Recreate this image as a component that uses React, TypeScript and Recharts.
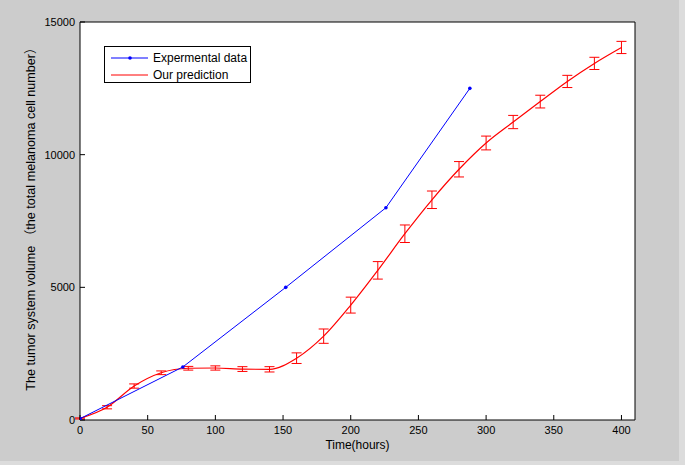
import React from 'react';
import {
  ComposedChart,
  ErrorBar,
  Legend,
  Line,
  XAxis,
  YAxis
} from 'recharts';

// Experimental measurements (hours, cell number)
const expHours = [0, 76, 152, 226, 288];
const expVolume = [50, 2000, 5000, 8000, 12500];

// Model prediction with error bars, every 20 hours
const predHours = [0, 20, 40, 60, 80, 100, 120, 140, 160, 180, 200, 220, 240, 260, 280, 300, 320, 340, 360, 380, 400];
const predVolume = [60, 480, 1280, 1780, 1950, 1960, 1920, 1910, 2330, 3160, 4330, 5640, 7020, 8300, 9450, 10440, 11230, 12000, 12760, 13440, 14040];
const predError = [20, 60, 80, 70, 70, 80, 90, 100, 200, 270, 300, 330, 330, 330, 290, 260, 250, 240, 230, 230, 230];

const xTicks = [0, 50, 100, 150, 200, 250, 300, 350, 400];
const yTicks = [0, 5000, 10000, 15000];

const expData = expHours.map((t, i) => ({ t, v: expVolume[i] }));
const predData = predHours.map((t, i) => ({ t, v: predVolume[i], err: predError[i] }));

const FONT = 'Arial, "Liberation Sans", Helvetica, sans-serif';
const tickStyle = { fill: '#000', fontSize: 11, fontFamily: FONT };

const LegendBox = () => (
  <div
    style={{
      width: 147,
      height: 37,
      background: '#fff',
      border: '1px solid #000',
      boxSizing: 'border-box',
      position: 'relative'
    }}
  >
    <svg width={147} height={37} style={{ position: 'absolute', left: 0, top: 0 }}>
      <line x1={6} x2={43} y1={11} y2={11} stroke="#0000ff" strokeWidth={1} />
      <circle cx={25} cy={11} r={1.8} fill="#0000ff" />
      <line x1={6} x2={43} y1={28} y2={28} stroke="#ff0000" strokeWidth={1} />
      <text x={48} y={15} fontSize={12} fontFamily={FONT} fill="#000">Expermental data</text>
      <text x={48} y={32} fontSize={12} fontFamily={FONT} fill="#000">Our prediction</text>
    </svg>
  </div>
);

export default function App() {
  return (
    <div style={{ position: 'absolute', left: 0, top: 0, width: 685, height: 465, background: '#dcdcdc' }}>
      <div style={{ width: 679, height: 461, background: '#cccccc' }}>
        <ComposedChart
          width={679}
          height={461}
          margin={{ top: 17, right: 39, bottom: 1, left: 30 }}
          style={{ fontFamily: FONT }}
        >
          <rect x={80} y={22} width={555} height={398} fill="#fff" />
          <XAxis
            xAxisId="b"
            type="number"
            dataKey="t"
            domain={[0, 410]}
            ticks={xTicks}
            allowDataOverflow
            tick={tickStyle}
            tickSize={-5}
            tickMargin={11}
            height={40}
            stroke="#000"
            label={{ value: 'Time(hours)', position: 'insideTop', offset: 20, fill: '#000', fontSize: 12, fontFamily: FONT }}
          />
          <XAxis
            xAxisId="top"
            orientation="top"
            type="number"
            dataKey="t"
            domain={[0, 410]}
            ticks={xTicks}
            allowDataOverflow
            tick={false}
            tickSize={-5}
            height={5}
            stroke="#000"
          />
          <YAxis
            yAxisId="l"
            type="number"
            domain={[0, 15000]}
            ticks={yTicks}
            allowDataOverflow
            tick={tickStyle}
            tickSize={-5}
            tickMargin={10}
            width={50}
            stroke="#000"
            label={{
              value: 'The tumor system volume （the total melanoma cell number）',
              angle: -90,
              position: 'center',
              dx: -24,
              dy: -5,
              fill: '#000',
              fontSize: 12.6,
              fontFamily: 'Arial, "Liberation Sans", "Noto Sans CJK SC", sans-serif'
            }}
          />
          <YAxis
            yAxisId="r"
            orientation="right"
            type="number"
            domain={[0, 15000]}
            ticks={yTicks}
            allowDataOverflow
            tick={false}
            tickSize={-5}
            width={5}
            stroke="#000"
          />
          <Legend
            layout="horizontal"
            align="center"
            verticalAlign="middle"
            content={<LegendBox />}
            wrapperStyle={{ position: 'absolute', left: 104, top: 46, width: 147, height: 37 }}
          />
          <Line
            xAxisId="b"
            yAxisId="l"
            data={predData}
            dataKey="v"
            type="monotone"
            stroke="#ff0000"
            strokeWidth={1.2}
            dot={false}
            isAnimationActive={false}
            legendType="none"
          >
            <ErrorBar dataKey="err" direction="y" width={5} stroke="#ff0000" strokeWidth={1} isAnimationActive={false} />
          </Line>
          <Line
            xAxisId="b"
            yAxisId="l"
            data={expData}
            dataKey="v"
            type="linear"
            stroke="#0000ff"
            strokeWidth={1}
            dot={{ r: 1.8, fill: '#0000ff', stroke: '#0000ff', strokeWidth: 0 }}
            isAnimationActive={false}
            legendType="none"
          />
        </ComposedChart>
      </div>
    </div>
  );
}
